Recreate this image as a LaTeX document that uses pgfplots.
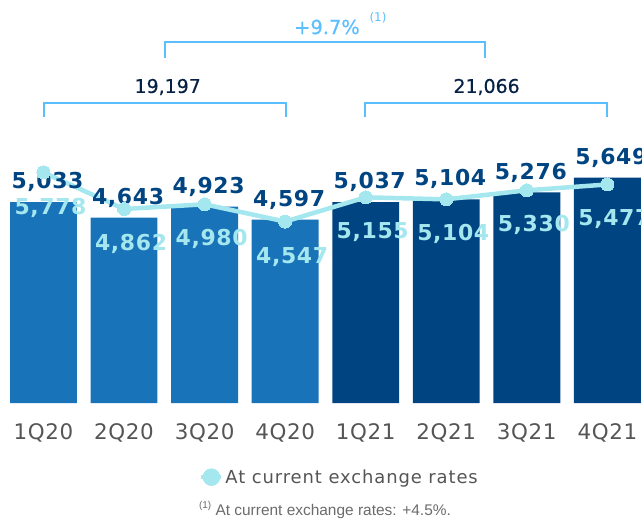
\documentclass[border=0pt]{standalone}
\usepackage{pgfplots}
\pgfplotsset{compat=1.18}
\usepackage{fontspec}
\setmainfont{DejaVu Sans}
\newfontfamily\lsp[LetterSpace=3]{DejaVu Sans}
\newfontfamily\tsp[LetterSpace=3]{DejaVu Sans}
\newfontfamily\gsp[LetterSpace=5]{DejaVu Sans}
\newfontfamily\med[FakeBold=0.5]{DejaVu Sans}
\newfontfamily\lib{Liberation Sans}
\definecolor{barlight}{HTML}{1973B8}
\definecolor{bardark}{HTML}{004481}
\definecolor{lcyan}{HTML}{A5E7EE}
\definecolor{lblue}{HTML}{5BBEFF}
\definecolor{navy}{HTML}{072146}
\definecolor{tickgray}{HTML}{555555}
\definecolor{foot}{HTML}{6B6B6B}
\begin{document}
\begin{tikzpicture}
\begin{axis}[
  at={(0,0)}, anchor=south west,
  scale only axis, width=642bp, height=403bp,
  xmin=-0.54, xmax=7.43, ymin=0, ymax=10100,
  axis line style={draw=none}, tick style={draw=none}, ytick=\empty,
  xtick={0,...,7},
  xticklabels={1Q20,2Q20,3Q20,4Q20,1Q21,2Q21,3Q21,4Q21},
  xticklabel style={anchor=center, yshift=-30bp, font=\tsp\fontsize{21.5}{21.5}\selectfont, text=tickgray},
  clip=false,
  /pgf/number format/1000 sep={,},
  /pgf/number format/assume math mode=true,
  legend style={at={(0.529,-0.184)}, anchor=center, draw=none, fill=none,
    font=\gsp\fontsize{18}{18}\selectfont, text=tickgray},
  legend image code/.code={
    \draw[lcyan, line width=4bp] (0bp,0bp) -- (20bp,0bp);
    \fill[lcyan] (10bp,0bp) circle (6.5bp);
  },
]
\addplot[ybar, bar width=0.83, bar shift=0pt, fill=barlight, draw=none, forget plot,
  nodes near coords,
  every node near coord/.append style={anchor=center, yshift=20bp, xshift=4bp, text=bardark,
    font=\lsp\bfseries\fontsize{22}{22}\selectfont}]
  coordinates {(0,5033) (1,4643) (2,4923) (3,4597)};
\addplot[ybar, bar width=0.83, bar shift=0pt, fill=bardark, draw=none, forget plot,
  nodes near coords,
  every node near coord/.append style={anchor=center, yshift=20bp, xshift=4bp, text=bardark,
    font=\lsp\bfseries\fontsize{22}{22}\selectfont}]
  coordinates {(4,5037) (5,5104) (6,5276) (7,5649)};
\addplot[lcyan, line width=4.5bp, mark=*, mark size=6.5bp,
  mark options={fill=lcyan, draw=lcyan, line width=0pt},
  nodes near coords,
  every node near coord/.append style={anchor=center, yshift=-35bp, xshift=7bp, text=lcyan,
    font=\lsp\bfseries\fontsize{22}{22}\selectfont}]
  coordinates {(0,5778) (1,4862) (2,4980) (3,4547) (4,5155) (5,5104) (6,5330) (7,5477)};
\addlegendentry{At current exchange rates}
\end{axis}
% brackets
\draw[lblue, line width=2.5bp] (44bp,286bp) -- (44bp,300bp) -- (286bp,300bp) -- (286bp,286bp);
\draw[lblue, line width=2.5bp] (365bp,286bp) -- (365bp,300bp) -- (607bp,300bp) -- (607bp,286bp);
\draw[lblue, line width=2.5bp] (165bp,345bp) -- (165bp,361bp) -- (485bp,361bp) -- (485bp,345bp);
\node[text=navy, font=\med\fontsize{19}{19}\selectfont] at (167.7bp,316bp) {19,197};
\node[text=navy, font=\med\fontsize{19}{19}\selectfont] at (486.6bp,316bp) {21,066};
\node[text=lblue, font=\med\fontsize{19.5}{19.5}\selectfont] at (327bp,376bp) {+9.7\%};
\node[text=lblue, font=\fontsize{12}{12}\selectfont] at (378bp,385bp) {(1)};
\node[text=foot, font=\lib\fontsize{15.5}{15.5}\selectfont] at (325bp,-107bp)
  {\raisebox{0.45em}{\fontsize{10}{10}\selectfont(1)} At current exchange rates: +4.5\%.};
\pgfresetboundingbox
\path[use as bounding box] (0bp,-117bp) rectangle (642bp,403bp);
\end{tikzpicture}
\end{document}
